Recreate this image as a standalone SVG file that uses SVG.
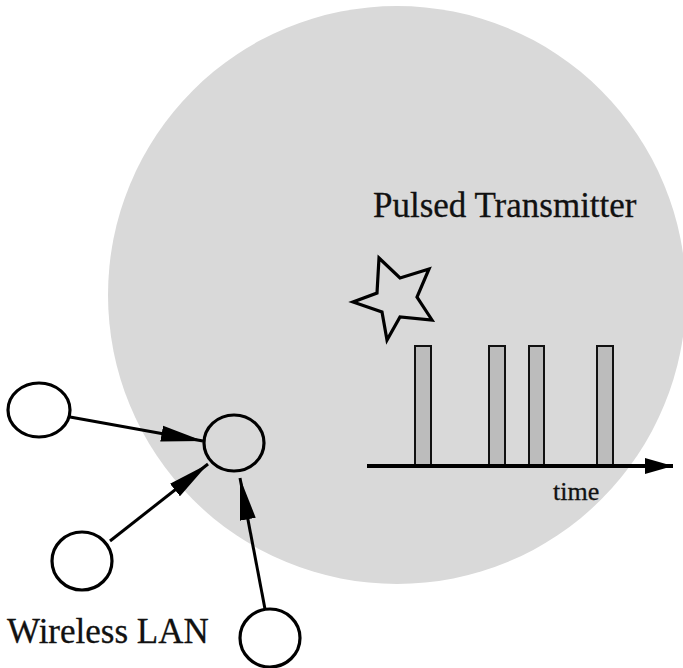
<svg xmlns="http://www.w3.org/2000/svg" width="683" height="668" viewBox="0 0 683 668">
  <style>
    .label { font-family: "Liberation Serif", "Times New Roman", serif; fill: #111; stroke: #111; stroke-width: 0.3; }
    .node { fill: none; stroke: #000; stroke-width: 3.2; }
    .link { stroke: #000; stroke-width: 3; fill: none; }
    .pulse { fill: #bcbcbc; stroke: #111; stroke-width: 2; }
  </style>
  <defs>
    <marker id="head" markerUnits="userSpaceOnUse" markerWidth="44" markerHeight="18" refX="42" refY="9" orient="auto">
      <path d="M0,1 L42,9 L0,17 z" fill="#000"/>
    </marker>
    <marker id="axisHead" markerUnits="userSpaceOnUse" markerWidth="30" markerHeight="18" refX="28" refY="9" orient="auto">
      <path d="M0,1 L28,9 L0,17 z" fill="#000"/>
    </marker>
  </defs>

  <rect width="683" height="668" fill="#fff"/>

  <!-- coverage area of the pulsed transmitter -->
  <g id="coverage">
    <circle cx="397" cy="295" r="289" fill="#d9d9d9"/>
    <text class="label" x="373" y="217" font-size="35">Pulsed Transmitter</text>
  </g>

  <!-- transmitter symbol -->
  <g id="transmitter">
    <polygon points="379,258 400,278 429,269 417,297 432,320 400,317 387,340 382,312 353,302 377,293" fill="none" stroke="#000" stroke-width="3.2" stroke-linejoin="miter"/>
  </g>

  <!-- pulse train over time -->
  <g id="pulses">
    <rect class="pulse" x="415" y="346" width="16" height="120"/>
    <rect class="pulse" x="489" y="346" width="16" height="120"/>
    <rect class="pulse" x="529" y="346" width="15" height="120"/>
    <rect class="pulse" x="597" y="346" width="16" height="120"/>
  </g>
  <g id="time-axis">
    <line x1="367" y1="466" x2="673" y2="466" stroke="#000" stroke-width="4" marker-end="url(#axisHead)"/>
    <text class="label" x="553" y="500" font-size="26">time</text>
  </g>

  <!-- wireless LAN stations -->
  <g id="station-a"><ellipse class="node" cx="39" cy="410" rx="31" ry="27"/></g>
  <g id="access-point"><ellipse class="node" cx="234" cy="443" rx="30" ry="28"/></g>
  <g id="station-b"><ellipse class="node" cx="82" cy="561" rx="30" ry="29"/></g>
  <g id="station-c"><ellipse class="node" cx="270" cy="638" rx="30" ry="29"/></g>

  <g id="links">
    <line class="link" x1="70" y1="417" x2="203" y2="441" marker-end="url(#head)"/>
    <line class="link" x1="110" y1="541" x2="208" y2="464" marker-end="url(#head)"/>
    <line class="link" x1="265" y1="609" x2="240" y2="478" marker-end="url(#head)"/>
  </g>

  <text class="label" x="7" y="643" font-size="35">Wireless LAN</text>
</svg>
